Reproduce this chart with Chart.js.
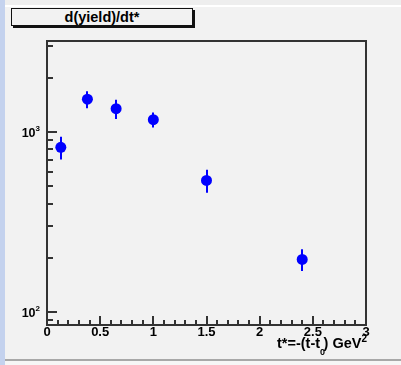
<!DOCTYPE html>
<html>
<head>
<meta charset="utf-8">
<script src="https://cdn.jsdelivr.net/npm/chart.js@4/dist/chart.umd.min.js"></script>
<style>
  html, body { margin: 0; padding: 0; }
  body { width: 401px; height: 365px; background: #f2f2f2; position: relative; overflow: hidden;
         font-family: "Liberation Sans", Arial, sans-serif; }
  #topband { position: absolute; left: 0; top: 0; width: 401px; height: 5px; background: #eeeeee; }
  #topline { position: absolute; left: 0; top: 5px; width: 401px; height: 2px; background: #ffffff; }
  #side { position: absolute; left: 0; top: 0; width: 5px; height: 365px; background: #c4d2ee; }
  #bottomline { position: absolute; left: 5px; top: 359px; width: 396px; height: 2px; background: #a8a8a8; }
  #bottomband { position: absolute; left: 5px; top: 361px; width: 396px; height: 4px; background: #f6f6f6; }
  #title { position: absolute; left: 11px; top: 8px; width: 180px; height: 16px; border: 1px solid #111;
           box-shadow: 2px 2px 0 #111; background: #f2f2f2; text-align: center;
           font-weight: bold; font-size: 14.5px; line-height: 16px; color: #000; }
  #wrap { position: absolute; left: 0; top: 0; width: 401px; height: 365px; }
</style>
</head>
<body>
<div id="topband"></div>
<div id="topline"></div>
<div id="side"></div>
<div id="bottomline"></div>
<div id="bottomband"></div>
<div id="title">d(yield)/dt*</div>
<div id="wrap"><canvas id="chart" width="401" height="365"></canvas></div>
<script>
'use strict';

// t* bins (GeV^2), yield per bin and its error
var tStar = [0.13, 0.38, 0.65, 1.0, 1.5, 2.4];
var yieldVals = [822, 1520, 1346, 1170, 538, 196];
var yieldErrs = [120, 165, 165, 112, 78, 27];

// axis ranges and labelled ticks
var xRange = [0, 3];
var yRange = [84.7, 3200];
var xMajor = [0, 0.5, 1, 1.5, 2, 2.5, 3];
var xMajorLabels = ['0', '0.5', '1', '1.5', '2', '2.5', '3'];
var yMajor = [100, 1000];
var yMajorLabels = ['10', '10'];
var yMajorExp = ['2', '3'];

var points = tStar.map(function(t, i) { return { x: t, y: yieldVals[i] }; });

var FONT = '"Liberation Sans", Arial, sans-serif';
var AXIS = '#333333';

// frame, inward ticks, labels and error bars in ROOT style
var rootAxes = {
  id: 'rootAxes',
  beforeDatasetsDraw: function(chart) {
    var ctx = chart.ctx, a = chart.chartArea;
    var xs = chart.scales.x, ys = chart.scales.y;
    ctx.save();

    // error bars
    ctx.strokeStyle = '#0000ff';
    ctx.lineWidth = 2;
    tStar.forEach(function(t, i) {
      var px = Math.round(xs.getPixelForValue(t));
      ctx.beginPath();
      ctx.moveTo(px, ys.getPixelForValue(yieldVals[i] + yieldErrs[i]));
      ctx.lineTo(px, ys.getPixelForValue(yieldVals[i] - yieldErrs[i]));
      ctx.stroke();
    });

    // frame
    ctx.strokeStyle = AXIS;
    ctx.lineWidth = 2;
    ctx.strokeRect(a.left, a.top, a.right - a.left, a.bottom - a.top);

    // x ticks: majors every 0.5, minors every 0.1
    ctx.lineWidth = 2;
    ctx.beginPath();
    for (var k = 0; k <= 30; k++) {
      var v = k / 10;
      var px = Math.round(xs.getPixelForValue(v));
      var len = (k % 5 === 0) ? 9 : 5;
      ctx.moveTo(px, a.bottom);
      ctx.lineTo(px, a.bottom - len);
    }
    ctx.stroke();

    // y ticks: decades and 2..9 minors
    ctx.beginPath();
    [10, 100, 1000].forEach(function(dec) {
      for (var m = 1; m <= 9; m++) {
        var val = dec * m;
        if (val < yRange[0] || val > yRange[1]) continue;
        var py = Math.round(ys.getPixelForValue(val));
        var len = (m === 1) ? 10 : 6;
        ctx.moveTo(a.left, py);
        ctx.lineTo(a.left + len, py);
      }
    });
    ctx.stroke();

    // x tick labels
    ctx.fillStyle = '#000';
    ctx.font = 'bold 13px ' + FONT;
    ctx.textAlign = 'center';
    ctx.textBaseline = 'alphabetic';
    xMajor.forEach(function(v, i) {
      ctx.fillText(xMajorLabels[i], xs.getPixelForValue(v), a.bottom + 11);
    });

    // y tick labels with exponent
    yMajor.forEach(function(v, i) {
      var py = ys.getPixelForValue(v);
      ctx.font = 'bold 8px ' + FONT;
      ctx.textAlign = 'right';
      ctx.fillText(yMajorExp[i], 40, py - 1);
      var ew = ctx.measureText(yMajorExp[i]).width;
      ctx.font = 'bold 12.5px ' + FONT;
      ctx.fillText(yMajorLabels[i], 40 - ew, py + 5);
    });

    // x axis title: t*=-(t-t0) GeV^2, right aligned to the frame
    var parts = [
      { s: 't*=-(t-t', size: 14.5, dy: 0, adv: 1 },
      { s: '0', size: 9, dy: 7, adv: 0.7 },
      { s: ') GeV', size: 14.5, dy: 0, adv: 1 },
      { s: '2', size: 10, dy: -6, adv: 1 }
    ];
    var total = 0;
    parts.forEach(function(p) {
      ctx.font = 'bold ' + p.size + 'px ' + FONT;
      p.w = ctx.measureText(p.s).width;
      total += p.w * p.adv;
    });
    var tx = a.right - total + 1;
    ctx.textAlign = 'left';
    parts.forEach(function(p) {
      ctx.font = 'bold ' + p.size + 'px ' + FONT;
      ctx.fillText(p.s, tx, a.bottom + 23 + p.dy);
      tx += p.w * p.adv;
    });

    ctx.restore();
  }
};

var chart = new Chart(document.getElementById('chart').getContext('2d'), {
  type: 'scatter',
  data: {
    datasets: [{
      label: 'd(yield)/dt*',
      data: points,
      pointRadius: 5.5,
      pointHoverRadius: 5.5,
      pointBorderWidth: 0,
      pointBackgroundColor: '#0000ff',
      pointBorderColor: '#0000ff'
    }]
  },
  options: {
    responsive: false,
    animation: false,
    layout: { padding: { left: 47, top: 41, right: 35, bottom: 40 } },
    plugins: { legend: { display: false }, tooltip: { enabled: false }, title: { display: false } },
    scales: {
      x: { type: 'linear', min: xRange[0], max: xRange[1], display: false },
      y: { type: 'logarithmic', min: yRange[0], max: yRange[1], display: false }
    }
  },
  plugins: [rootAxes]
});
</script>
</body>
</html>
